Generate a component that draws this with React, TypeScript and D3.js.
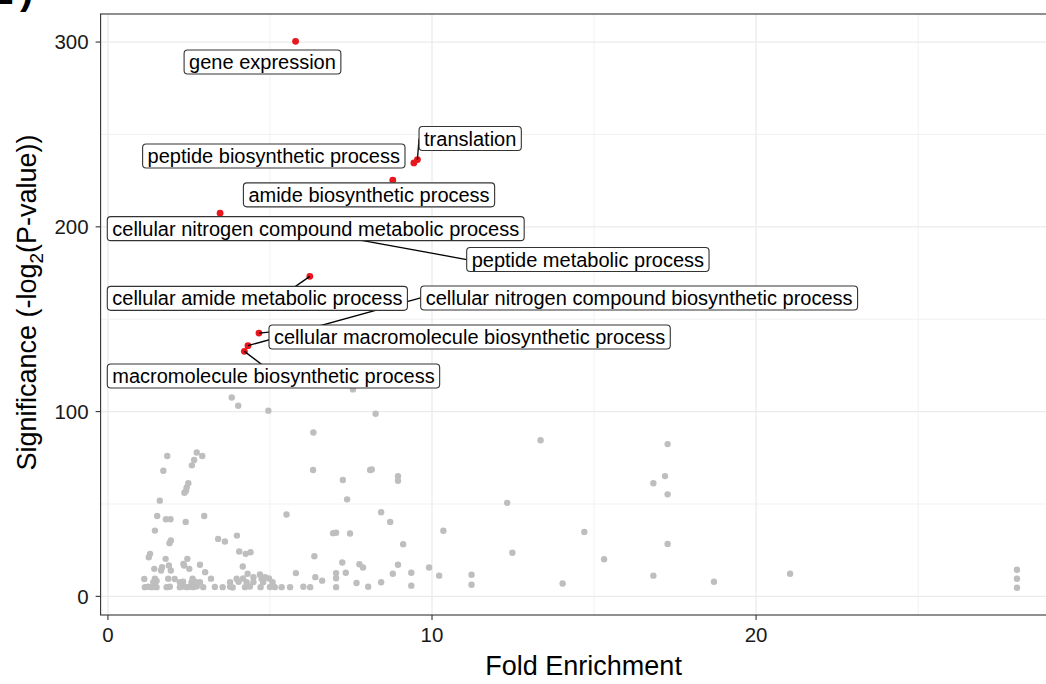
import React from 'react';
import * as d3 from 'd3';

// Background GO terms: [fold enrichment, significance]
const otherTerms: [number, number][] = [
  [1.14, 5.0], [1.24, 5.2], [1.35, 5.0], [1.45, 5.3], [1.5, 5.0], [1.81, 5.0], [1.91, 5.2],
  [2.22, 5.0], [2.32, 5.3], [2.43, 5.0], [2.53, 5.2], [2.63, 5.0], [2.74, 5.4], [2.94, 5.0],
  [3.3, 5.1], [3.54, 5.0], [3.77, 5.2], [3.85, 4.8], [4.23, 5.0], [4.38, 5.3], [4.71, 5.0],
  [5.0, 5.1], [5.15, 5.0], [5.36, 5.0], [5.62, 5.0], [6.03, 5.2], [6.24, 5.0], [7.04, 5.0],
  [8.03, 5.2], [9.36, 5.8], [11.22, 6.3], [14.03, 7.0], [28.05, 4.7],
  [1.4, 7.7], [1.5, 8.3], [2.22, 7.7], [2.32, 7.9], [2.58, 7.7], [2.69, 8.0], [2.84, 7.6],
  [3.77, 7.7], [4.03, 7.9], [4.28, 7.7], [4.49, 7.8], [4.79, 7.6], [5.08, 7.7], [6.61, 8.5],
  [7.67, 7.2], [8.43, 7.6], [18.7, 7.9],
  [1.12, 9.4], [1.45, 9.5], [1.86, 9.6], [2.06, 9.4], [2.61, 9.5], [3.18, 9.6], [3.97, 9.5],
  [4.17, 9.7], [4.74, 9.5], [4.85, 10.4], [4.97, 9.7], [5.8, 12.6], [6.4, 10.4], [7.04, 9.8],
  [7.34, 12.8], [28.05, 9.5],
  [1.26, 21.2], [1.3, 23.0], [1.43, 14.9], [1.64, 14.0], [1.67, 15.8], [1.78, 20.3], [1.88, 16.7],
  [1.94, 14.0], [2.33, 17.6], [2.35, 16.7], [2.45, 20.3], [2.51, 14.9], [2.84, 17.1], [3.0, 13.1],
  [1.45, 35.6], [1.52, 43.5], [1.6, 51.8], [1.71, 68.0], [1.83, 76.0], [1.79, 41.7], [1.93, 41.7],
  [1.9, 28.8], [1.94, 30.2], [2.36, 56.1], [2.41, 57.2], [2.43, 59.0], [2.48, 61.2], [2.4, 40.3],
  [2.59, 70.9], [2.66, 73.8], [2.74, 77.9], [2.91, 76.0], [2.97, 43.5], [3.4, 31.1], [3.61, 29.7],
  [3.98, 32.9], [3.82, 107.6], [4.02, 103.2], [4.05, 24.3], [4.16, 16.2], [4.25, 23.0], [4.4, 23.9],
  [4.31, 12.2], [4.49, 10.4], [4.69, 11.9], [4.95, 100.5], [5.51, 44.3], [6.34, 88.7], [6.33, 68.4],
  [6.37, 21.7], [6.95, 34.2], [7.04, 34.4], [7.47, 34.0], [7.25, 63.0], [7.38, 52.5], [7.56, 112.0],
  [8.09, 68.4], [8.14, 68.7], [8.26, 98.8], [8.43, 45.5], [8.71, 40.3], [8.95, 65.1], [8.95, 62.6],
  [9.11, 28.2], [7.23, 18.3], [7.76, 17.4], [7.87, 15.6], [8.95, 17.1], [7.04, 12.6], [8.79, 12.2],
  [9.36, 12.8], [9.91, 15.6], [10.22, 11.2], [10.35, 35.5], [11.22, 11.7], [12.32, 50.6],
  [12.48, 23.6], [13.35, 84.5], [14.7, 34.9], [15.31, 20.1], [16.83, 61.2], [16.83, 11.2],
  [17.19, 65.1], [17.27, 82.4], [17.27, 55.2], [17.27, 28.4], [21.05, 12.2], [28.05, 14.4],
];

// Highlighted GO terms
const topTerms = [
  'gene expression',
  'translation',
  'peptide biosynthetic process',
  'amide biosynthetic process',
  'cellular nitrogen compound metabolic process',
  'peptide metabolic process',
  'cellular amide metabolic process',
  'cellular nitrogen compound biosynthetic process',
  'cellular macromolecule biosynthetic process',
  'macromolecule biosynthetic process',
];
const topFold = [5.79, 9.55, 9.44, 8.79, 3.46, 6.85, 6.23, 4.32, 4.66, 4.21];
const topSig = [300.4, 236.4, 234.6, 225.2, 207.4, 195.8, 173.2, 135.7, 142.5, 132.6];

// Repelled label placement (box left edge and vertical centre, in data units),
// with the point on the box where the leader segment attaches (fractions of box size)
const labelLeft = [2.35, 9.6, 1.07, 4.18, -0.02, 11.07, -0.02, 9.65, 4.97, -0.02];
const labelMidY = [289.2, 247.8, 238.3, 217.3, 199.0, 182.3, 161.3, 161.5, 140.4, 119.3];
const labelHook: ([number, number] | null)[] = [
  null, [0, 0.5], null, null, null, [0, 0.5], [0.57, 0.5], [0, 0.5], [0, 0.3], [0.51, 0.5],
];

const xTicks = [0, 10, 20];
const yTicks = [0, 100, 200, 300];
const xMinor = [5, 15, 25];
const yMinor = [50, 150, 250];

const W = 1046;
const H = 684;
const FONT = "'Liberation Sans', Arial, Helvetica, sans-serif";
const LABEL_SIZE = 20;
const LABEL_PAD = 5;
const LABEL_H = 24;
const TITLE_SIZE = 27;

function expand(vals: number[]): [number, number] {
  const [lo, hi] = d3.extent(vals) as [number, number];
  const pad = (hi - lo) * 0.05;
  return [lo - pad, hi + pad];
}

let measureCtx: CanvasRenderingContext2D | null = null;
function textWidth(s: string): number {
  if (!measureCtx) {
    const c = document.createElement('canvas');
    measureCtx = c.getContext('2d');
  }
  if (!measureCtx) return s.length * LABEL_SIZE * 0.5;
  measureCtx.font = `${LABEL_SIZE}px ${FONT}`;
  return measureCtx.measureText(s).width;
}

export default function App() {
  const allX = otherTerms.map((d) => d[0]).concat(topFold);
  const allY = otherTerms.map((d) => d[1]).concat(topSig);
  const panel = { left: 100.6, right: 1060.6, top: 14, bottom: 615 };
  const x = d3.scaleLinear().domain(expand(allX)).range([panel.left, panel.right]);
  const y = d3.scaleLinear().domain(expand(allY)).range([panel.bottom, panel.top]);

  const boxes = topTerms.map((t, i) => {
    const w = textWidth(t) + LABEL_PAD * 2;
    const bx = x(labelLeft[i]);
    const by = y(labelMidY[i]) - LABEL_H / 2;
    return { t, i, bx, by, w, h: LABEL_H };
  });

  const gridCol = '#ebebeb';
  const axisCol = '#333333';

  return (
    <svg
      width={W}
      height={H}
      style={{ position: 'absolute', left: 0, top: 0, background: '#fff' }}
      fontFamily={FONT}
    >
      <rect x={0} y={0} width={W} height={H} fill="#fff" />
      {/* panel tag */}
      <text x={-13} y={4} fontSize={40} fontWeight="bold" fill="#000">E</text>
      <text x={20} y={4} fontSize={40} fontWeight="bold" fill="#000">)</text>

      {/* grid */}
      <g>
        {xMinor.map((v) => (
          <line key={'xm' + v} x1={x(v)} x2={x(v)} y1={panel.top} y2={panel.bottom} stroke={gridCol} strokeWidth={0.7} />
        ))}
        {yMinor.map((v) => (
          <line key={'ym' + v} x1={panel.left} x2={panel.right} y1={y(v)} y2={y(v)} stroke={gridCol} strokeWidth={0.7} />
        ))}
        {xTicks.map((v) => (
          <line key={'xg' + v} x1={x(v)} x2={x(v)} y1={panel.top} y2={panel.bottom} stroke={gridCol} strokeWidth={1.3} />
        ))}
        {yTicks.map((v) => (
          <line key={'yg' + v} x1={panel.left} x2={panel.right} y1={y(v)} y2={y(v)} stroke={gridCol} strokeWidth={1.3} />
        ))}
      </g>

      {/* background terms */}
      <g fill="#bebebe">
        {otherTerms.map((d, i) => (
          <circle key={i} cx={x(d[0])} cy={y(d[1])} r={3.2} />
        ))}
      </g>

      {/* highlighted terms */}
      <g fill="#e8171d">
        {topFold.map((f, i) => (
          <circle key={i} cx={x(f)} cy={y(topSig[i])} r={3.4} />
        ))}
      </g>

      {/* leader segments */}
      <g stroke="#000" strokeWidth={1.3}>
        {boxes.map((b) => {
          const hook = labelHook[b.i];
          if (!hook) return null;
          return (
            <line
              key={b.i}
              x1={x(topFold[b.i])}
              y1={y(topSig[b.i])}
              x2={b.bx + hook[0] * b.w}
              y2={b.by + hook[1] * b.h}
            />
          );
        })}
      </g>

      {/* labels */}
      <g>
        {boxes.map((b) => (
          <g key={b.i}>
            <rect x={b.bx} y={b.by} width={b.w} height={b.h} rx={3.5} ry={3.5} fill="#fff" stroke="#333" strokeWidth={1.1} />
            <text x={b.bx + LABEL_PAD} y={b.by + b.h / 2 + 7} fontSize={LABEL_SIZE} fill="#000">
              {b.t}
            </text>
          </g>
        ))}
      </g>

      {/* panel border */}
      <rect
        x={panel.left}
        y={panel.top}
        width={panel.right - panel.left}
        height={panel.bottom - panel.top}
        fill="none"
        stroke={axisCol}
        strokeWidth={1.1}
      />

      {/* x axis */}
      <g>
        {xTicks.map((v) => (
          <g key={v}>
            <line x1={x(v)} x2={x(v)} y1={panel.bottom} y2={panel.bottom + 5} stroke={axisCol} strokeWidth={1.1} />
            <text x={x(v)} y={panel.bottom + 27} fontSize={20.5} textAnchor="middle" fill="#1a1a1a">
              {v}
            </text>
          </g>
        ))}
        <text x={(panel.left + panel.right) / 2 + 3} y={675} fontSize={TITLE_SIZE} textAnchor="middle" fill="#000">
          Fold Enrichment
        </text>
      </g>

      {/* y axis */}
      <g>
        {yTicks.map((v) => (
          <g key={v}>
            <line x1={panel.left - 5} x2={panel.left} y1={y(v)} y2={y(v)} stroke={axisCol} strokeWidth={1.1} />
            <text x={panel.left - 12} y={y(v) + 7.4} fontSize={20.5} textAnchor="end" fill="#1a1a1a">
              {v}
            </text>
          </g>
        ))}
        <text
          transform={`translate(36, ${(panel.top + panel.bottom) / 2 - 12}) rotate(-90)`}
          fontSize={TITLE_SIZE}
          textAnchor="middle"
          fill="#000"
        >
          Significance (-log
          <tspan fontSize={19} dy={7}>2</tspan>
          <tspan dy={-7}>(P-value))</tspan>
        </text>
      </g>
    </svg>
  );
}
